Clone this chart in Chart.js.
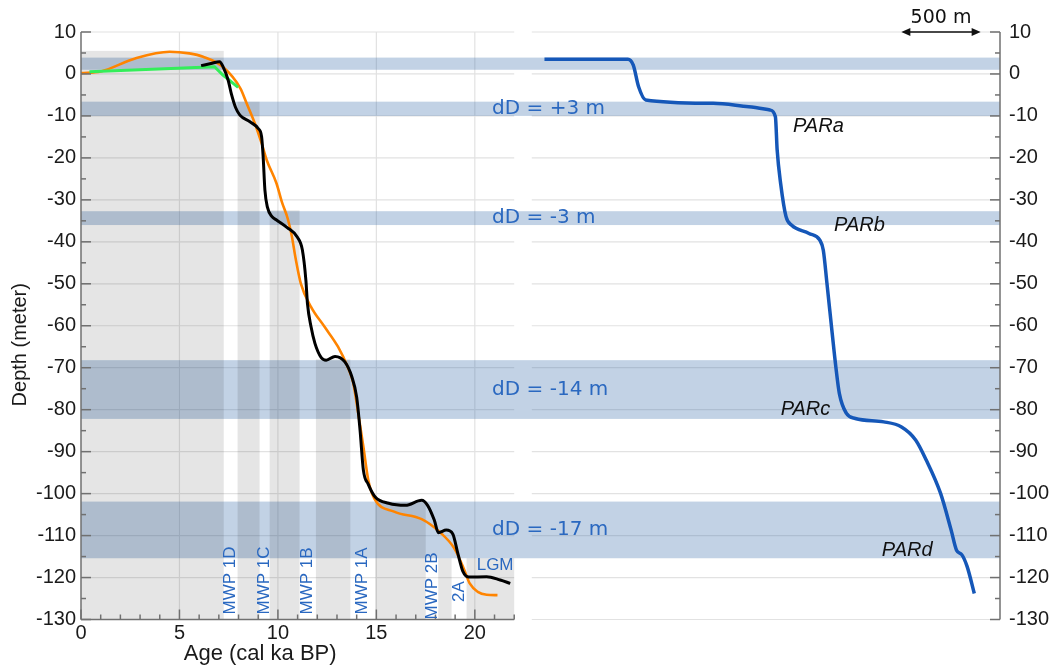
<!DOCTYPE html>
<html>
<head>
<meta charset="utf-8">
<script src="https://cdn.jsdelivr.net/npm/chart.js@4.4.1/dist/chart.umd.min.js"></script>
<style>
  html, body { margin: 0; padding: 0; background: #ffffff; }
  #wrap { position: relative; width: 1057px; height: 665px; }
</style>
</head>
<body>
<div id="wrap"><canvas id="c" width="1057" height="665"></canvas></div>
<script>
// ---- Sea-level reconstructions (age in cal ka BP, depth in m) ----
const blackAge   = [6.1, 6.6, 7.04, 7.21, 7.47, 7.65, 7.85, 8.07, 8.58, 9.0, 9.17, 9.25, 9.34, 9.47, 9.7, 9.93, 10.47, 10.99, 11.24, 11.42, 11.5, 11.68, 11.88, 12.2, 12.45, 12.9, 13.4, 13.75, 14.0, 14.17, 14.34, 14.59, 14.94, 15.62, 16.48, 17.3, 17.6, 17.94, 18.15, 18.55, 18.88, 19.14, 19.4, 19.7, 20.6, 21.29, 21.8];
const blackDepth = [1.98, 2.5, 2.93, 1.74, -1.44, -5.0, -8.0, -9.8, -11.4, -13.0, -14.9, -19.7, -27.7, -31.8, -34.0, -34.8, -36.6, -38.9, -41.9, -49.1, -54.7, -60.2, -64.2, -67.6, -68.2, -67.3, -68.6, -72.1, -77.0, -84.8, -94.4, -97.8, -100.8, -102.3, -102.8, -101.6, -102.8, -106.3, -109.3, -108.7, -109.6, -114.3, -118.6, -119.9, -119.8, -120.6, -121.4];

const orangeAge   = [0, 1.0, 2.75, 4.5, 5.5, 6.2, 7.2, 8.1, 8.41, 8.83, 9.17, 9.43, 9.93, 10.2, 10.5, 10.7, 10.9, 11.16, 11.68, 12.36, 13.05, 13.56, 13.82, 14.08, 14.34, 14.59, 14.9, 15.9, 17.3, 18.2, 18.95, 19.45, 19.74, 20.15, 20.6, 21.15];
const orangeDepth = [0.2, 0.6, 3.7, 5.3, 4.9, 4.1, 1.7, -3.5, -7.0, -11.8, -16.5, -20.5, -26.1, -30.5, -34.5, -38.5, -44.0, -49.9, -55.5, -60.2, -65.0, -70.0, -73.5, -80.9, -88.8, -96.8, -101.2, -104.3, -106.1, -109.1, -113.0, -118.0, -121.4, -123.4, -124.1, -124.2];

const greenAge   = [0.43, 6.78, 7.21, 7.98];
const greenDepth = [0.55, 1.74, -0.25, -3.19];

// ---- Shore profile: distance along profile (m) and depth (m) ----
const profileDist  = [0, 526, 560, 593, 638, 1064, 1288, 1422, 1456, 1467, 1489, 1523, 1557, 1668, 1736, 1758, 1781, 1814, 1837, 1859, 1904, 1960, 2139, 2251, 2340, 2407, 2497, 2564, 2598, 2632, 2665, 2710];
const profileDepth = [3.5, 3.5, 2.1, -3.0, -6.2, -7.0, -7.8, -8.6, -10.2, -18.1, -26.1, -34.0, -36.0, -38.0, -39.6, -42.0, -49.9, -61.8, -69.8, -76.1, -80.9, -82.1, -82.9, -84.1, -87.2, -92.0, -99.9, -108.7, -113.5, -114.6, -117.4, -123.8];

// ---- Terrace depth bands (m) and their depth offsets ----
const bandTop    = [3.9, -6.6, -32.7, -68.2, -101.9];
const bandBottom = [1.0, -10.0, -36.0, -82.2, -115.4];
const bandText   = ['', 'dD = +3 m', 'dD = -3 m', 'dD = -14 m', 'dD = -17 m'];

// ---- Stillstand periods (grey) between meltwater pulses ----
const standStart = [0, 7.95, 9.58, 11.93, 14.94, 18.14, 19.58];
const standEnd   = [7.25, 9.07, 11.1, 13.68, 17.51, 18.82, 22];
const standTop   = [5.5, -6.6, -32.5, -68, -102, -115.4, -115.4];
const pulseNames = ['MWP 1D', 'MWP 1C', 'MWP 1B', 'MWP 1A', 'MWP 2B', '2A'];
const pulseLabelBase = [-128.8, -128.8, -128.8, -128.8, -130, -125.8];

// ---- Profile annotations ----
const parNames = ['PARa', 'PARb', 'PARc', 'PARd'];
const parDist  = [1567, 1826, 1489, 2127];
const parDepth = [-12.6, -36.0, -79.9, -113.5];

// ---- Axes ----
const ageTicks = [0, 5, 10, 15, 20];
const ageEnd = 22;
const ageRange = [0, 46.67];          // age axis spans the whole plot; the left panel uses 0-22
const distRange = [-2922, 2872];      // profile distance axis (m)
const depthRange = [-130, 10];
const scaleBar = [2250, 2750];        // 500 m bar
const gridStartDist = -80;
const dDLabelDist = -330;

const BLUE_TEXT = '#2a68c0';
const SANS = '"Liberation Sans", Arial, sans-serif';
const DEJAVU = '"DejaVu Sans", sans-serif';

const zip = (xs, ys) => xs.map((v, i) => ({ x: v, y: ys[i] }));

function line(ctx, x1, y1, x2, y2) {
  ctx.beginPath(); ctx.moveTo(x1, y1); ctx.lineTo(x2, y2); ctx.stroke();
}

const panels = {
  id: 'panels',
  beforeDatasetsDraw(chart) {
    const { ctx, chartArea: a, scales: { x, x2, y } } = chart;
    ctx.save();
    // grid
    ctx.strokeStyle = '#e2e2e2';
    ctx.lineWidth = 1.2;
    const xe = x.getPixelForValue(ageEnd);
    const xr0 = x2.getPixelForValue(gridStartDist);
    for (let v = depthRange[0]; v <= depthRange[1]; v += 10) {
      const py = y.getPixelForValue(v);
      line(ctx, a.left, py, xe, py);
      line(ctx, xr0, py, a.right, py);
    }
    ageTicks.slice(1).forEach(v => {
      const px = x.getPixelForValue(v);
      line(ctx, px, a.top, px, a.bottom);
    });
    // depth bands
    ctx.fillStyle = 'rgba(52,105,168,0.30)';
    bandTop.forEach((t, i) => {
      const y1 = y.getPixelForValue(t), y2 = y.getPixelForValue(bandBottom[i]);
      ctx.fillRect(a.left, y1, a.right - a.left, y2 - y1);
    });
    // stillstands
    ctx.fillStyle = 'rgba(0,0,0,0.10)';
    standStart.forEach((s, i) => {
      const x1 = x.getPixelForValue(s), x2p = x.getPixelForValue(standEnd[i]);
      const y1 = y.getPixelForValue(standTop[i]), y2 = y.getPixelForValue(depthRange[0]);
      ctx.fillRect(x1, y1, x2p - x1, y2 - y1);
    });
    ctx.restore();
  },
  afterDatasetsDraw(chart) {
    const { ctx, chartArea: a, scales: { x, x2, y } } = chart;
    ctx.save();
    ctx.strokeStyle = '#707070';
    ctx.lineWidth = 1.5;
    // left and right depth axes with inward ticks
    line(ctx, a.left, a.top, a.left, a.bottom);
    line(ctx, a.right, a.top, a.right, a.bottom);
    for (let v = depthRange[0]; v <= depthRange[1]; v += 5) {
      const py = y.getPixelForValue(v);
      const len = v % 10 === 0 ? 10 : 5;
      line(ctx, a.left, py, a.left + len, py);
      line(ctx, a.right - len, py, a.right, py);
    }
    // age axis
    const xe = x.getPixelForValue(ageEnd);
    line(ctx, a.left, a.bottom, xe, a.bottom);
    for (let v = 0; v <= ageEnd; v += 1) {
      const px = x.getPixelForValue(v);
      const len = v % 5 === 0 ? 10 : 5;
      line(ctx, px, a.bottom, px, a.bottom - len);
    }

    // meltwater pulse labels
    ctx.fillStyle = BLUE_TEXT;
    ctx.font = '17px ' + SANS;
    ctx.textBaseline = 'middle';
    ctx.textAlign = 'left';
    pulseNames.forEach((name, i) => {
      const mid = (standEnd[i] + standStart[i + 1]) / 2;
      ctx.save();
      ctx.translate(x.getPixelForValue(mid), y.getPixelForValue(pulseLabelBase[i]));
      ctx.rotate(-Math.PI / 2);
      ctx.fillText(name, 0, 0);
      ctx.restore();
    });
    ctx.textAlign = 'center';
    ctx.fillText('LGM', x.getPixelForValue(21.03), y.getPixelForValue(-117));

    // band offsets
    ctx.font = '20px ' + DEJAVU;
    ctx.textAlign = 'left';
    bandText.forEach((t, i) => {
      if (!t) return;
      ctx.fillText(t, x2.getPixelForValue(dDLabelDist), y.getPixelForValue((bandTop[i] + bandBottom[i]) / 2));
    });

    // profile labels
    ctx.fillStyle = '#111111';
    ctx.font = 'italic 20px ' + SANS;
    parNames.forEach((n, i) => {
      ctx.fillText(n, x2.getPixelForValue(parDist[i]), y.getPixelForValue(parDepth[i]));
    });

    // scale bar
    const b1 = x2.getPixelForValue(scaleBar[0]), b2 = x2.getPixelForValue(scaleBar[1]);
    const by = y.getPixelForValue(depthRange[1]);
    ctx.strokeStyle = '#111111';
    ctx.lineWidth = 1.5;
    line(ctx, b1 + 4, by, b2 - 4, by);
    ctx.beginPath();
    ctx.moveTo(b1, by); ctx.lineTo(b1 + 9, by - 4); ctx.lineTo(b1 + 9, by + 4); ctx.closePath();
    ctx.moveTo(b2, by); ctx.lineTo(b2 - 9, by - 4); ctx.lineTo(b2 - 9, by + 4); ctx.closePath();
    ctx.fill();
    ctx.font = '19px ' + DEJAVU;
    ctx.textAlign = 'center';
    ctx.fillText('500 m', (b1 + b2) / 2, by - 14);

    // axis titles
    ctx.fillStyle = '#1a1a1a';
    ctx.font = '22px ' + SANS;
    ctx.fillText('Age (cal ka BP)', x.getPixelForValue(9.1), a.bottom + 34);
    ctx.save();
    ctx.translate(a.left - 61, (a.top + a.bottom) / 2 + 19);
    ctx.rotate(-Math.PI / 2);
    ctx.font = '20px ' + SANS;
    ctx.fillText('Depth (meter)', 0, 0);
    ctx.restore();
    ctx.restore();
  }
};

const tickFont = { family: SANS, size: 20 };
const depthAxis = (pos, width, pad) => ({
  type: 'linear',
  position: pos,
  min: depthRange[0],
  max: depthRange[1],
  grid: { display: false, drawTicks: false },
  border: { display: false },
  ticks: { stepSize: 10, padding: pad, font: tickFont, color: '#1a1a1a' },
  afterFit(s) { s.width = width; }
});

new Chart(document.getElementById('c'), {
  type: 'scatter',
  data: {
    datasets: [
      { label: 'black', data: zip(blackAge, blackDepth), xAxisID: 'x', yAxisID: 'y',
        showLine: true, borderColor: '#000000', borderWidth: 3, pointRadius: 0,
        cubicInterpolationMode: 'monotone', order: 0 },
      { label: 'green', data: zip(greenAge, greenDepth), xAxisID: 'x', yAxisID: 'y',
        showLine: true, borderColor: '#33ee5a', borderWidth: 3, pointRadius: 0,
        tension: 0, order: 1 },
      { label: 'orange', data: zip(orangeAge, orangeDepth), xAxisID: 'x', yAxisID: 'y',
        showLine: true, borderColor: '#ff8400', borderWidth: 2.6, pointRadius: 0,
        cubicInterpolationMode: 'monotone', order: 2 },
      { label: 'profile', data: zip(profileDist, profileDepth), xAxisID: 'x2', yAxisID: 'y',
        showLine: true, borderColor: '#1557b8', borderWidth: 3.5, pointRadius: 0,
        cubicInterpolationMode: 'monotone', order: 3 }
    ]
  },
  options: {
    responsive: false,
    animation: false,
    layout: { padding: { top: 32, left: 0, right: 0, bottom: 0 } },
    plugins: { legend: { display: false }, tooltip: { enabled: false } },
    scales: {
      x: {
        type: 'linear', position: 'bottom', min: ageRange[0], max: ageRange[1],
        grid: { display: false, drawTicks: false },
        border: { display: false },
        ticks: { padding: 1.5, font: tickFont, color: '#1a1a1a', maxRotation: 0, autoSkip: false },
        afterBuildTicks(s) { s.ticks = ageTicks.map(v => ({ value: v })); },
        afterFit(s) { s.height = 45.5; }
      },
      x2: { type: 'linear', display: false, min: distRange[0], max: distRange[1] },
      y: depthAxis('left', 81, 5),
      y2: depthAxis('right', 57, 9)
    }
  },
  plugins: [panels]
});
</script>
</body>
</html>
